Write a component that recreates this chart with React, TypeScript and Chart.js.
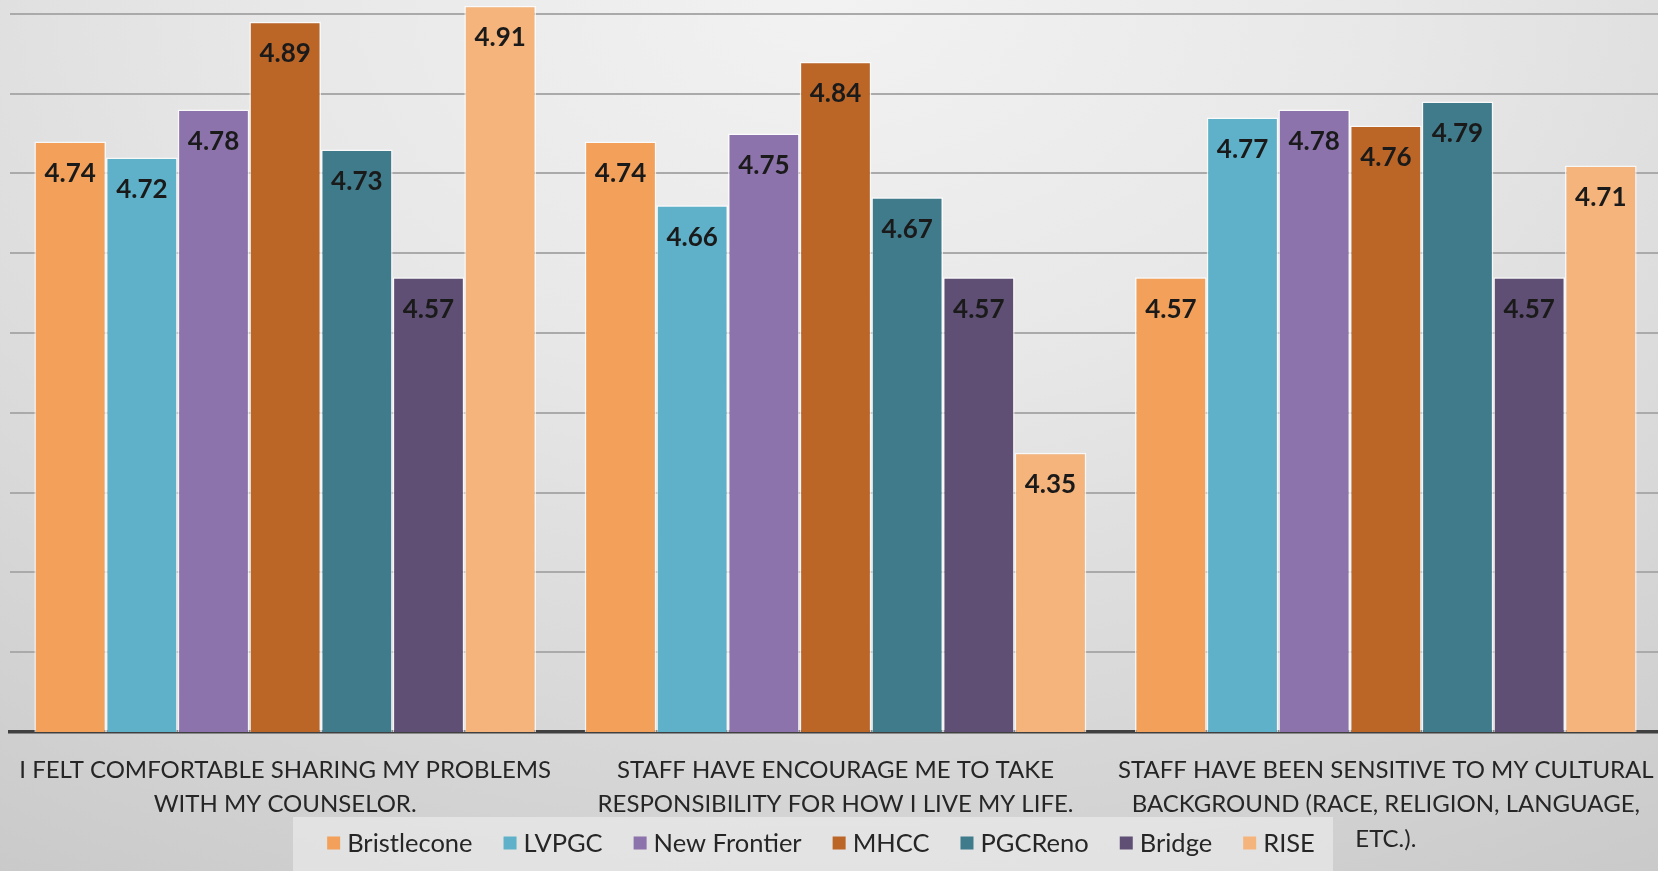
import React, { useEffect, useRef } from 'react';
import { Chart, registerables } from 'chart.js';

Chart.register(...registerables);

// Survey statements (x-axis categories, pre-split into lines)
const categories: string[][] = [
  ['I FELT COMFORTABLE SHARING MY PROBLEMS', 'WITH MY COUNSELOR.'],
  ['STAFF HAVE ENCOURAGE ME TO TAKE', 'RESPONSIBILITY FOR HOW I LIVE MY LIFE.'],
  ['STAFF HAVE BEEN SENSITIVE TO MY CULTURAL', 'BACKGROUND (RACE, RELIGION, LANGUAGE,', 'ETC.).'],
];

// Average ratings per program
const seriesNames = ['Bristlecone', 'LVPGC', 'New Frontier', 'MHCC', 'PGCReno', 'Bridge', 'RISE'];
const bristlecone = [4.74, 4.74, 4.57];
const lvpgc = [4.72, 4.66, 4.77];
const newFrontier = [4.78, 4.75, 4.78];
const mhcc = [4.89, 4.84, 4.76];
const pgcReno = [4.73, 4.67, 4.79];
const bridge = [4.57, 4.57, 4.57];
const rise = [4.91, 4.35, 4.71];
const seriesValues = [bristlecone, lvpgc, newFrontier, mhcc, pgcReno, bridge, rise];

const seriesColors = ['#F2A05A', '#5FB1C9', '#8D73AC', '#BB6527', '#3F7B8B', '#5F4F74', '#F5B47C'];

// Value axis range and gridline step
const yMin = 4.0;
const yMax = 5.0;
const yStep = 0.1;

const FONT = 'Lato, "Open Sans", sans-serif';
const TEXT_COLOR = '#262626';
const CANVAS_W = 1661;
const CANVAS_H = 937;
const TOP_SHIFT = 66;

const valueLabels = {
  id: 'valueLabels',
  afterDatasetsDraw(chart: any) {
    const ctx = chart.ctx;
    ctx.save();
    ctx.font = `bold 26px ${FONT}`;
    ctx.fillStyle = '#1a1a1a';
    ctx.textAlign = 'center';
    ctx.textBaseline = 'middle';
    chart.data.datasets.forEach((ds: any, di: number) => {
      const meta = chart.getDatasetMeta(di);
      meta.data.forEach((bar: any, i: number) => {
        ctx.fillText(Number(ds.data[i]).toFixed(2), bar.x, bar.y + 32);
      });
    });
    ctx.restore();
  },
};

const boxLegend = {
  id: 'boxLegend',
  afterDraw(chart: any) {
    const ctx = chart.ctx;
    const boxLeft = 293;
    const boxRight = 1333;
    const boxTop = 817 + TOP_SHIFT;
    ctx.save();
    ctx.fillStyle = 'rgba(240,240,240,0.55)';
    ctx.fillRect(boxLeft, boxTop, boxRight - boxLeft, CANVAS_H - boxTop);

    ctx.font = `25.5px ${FONT}`;
    ctx.textBaseline = 'middle';
    ctx.textAlign = 'left';
    const sq = 13;
    const sqGap = 7;
    const itemGap = 31;
    const widths = chart.data.datasets.map((ds: any) => ctx.measureText(ds.label).width);
    const total = widths.reduce((a: number, w: number) => a + sq + sqGap + w, 0) + itemGap * (widths.length - 1);
    let x = 821 - total / 2;
    const cy = 843 + TOP_SHIFT;
    chart.data.datasets.forEach((ds: any, i: number) => {
      ctx.fillStyle = ds.backgroundColor;
      ctx.fillRect(x, cy - sq / 2, sq, sq);
      x += sq + sqGap;
      ctx.fillStyle = TEXT_COLOR;
      ctx.fillText(ds.label, x, cy + 1);
      x += widths[i] + itemGap;
    });
    ctx.restore();
  },
};

export default function App() {
  const canvasRef = useRef<HTMLCanvasElement | null>(null);

  useEffect(() => {
    if (!canvasRef.current) return;
    const chart = new Chart(canvasRef.current, {
      type: 'bar',
      data: {
        labels: categories,
        datasets: seriesNames.map((name, i) => ({
          label: name,
          data: seriesValues[i],
          backgroundColor: seriesColors[i],
          borderColor: 'rgba(255,255,255,0.75)',
          borderWidth: 1.5,
          barPercentage: 1,
          categoryPercentage: 0.9115,
        })),
      },
      options: {
        responsive: false,
        animation: false,
        devicePixelRatio: 1,
        layout: { padding: { left: 10, right: 0, top: 0, bottom: 0 } },
        plugins: {
          legend: { display: false },
          tooltip: { enabled: false },
        },
        scales: {
          x: {
            z: 1,
            grid: { display: false, drawTicks: false },
            border: { display: true, color: '#404040', width: 3.5 },
            ticks: {
              autoSkip: false,
              maxRotation: 0,
              minRotation: 0,
              padding: 21,
              color: TEXT_COLOR,
              font: { family: FONT, size: 24, lineHeight: 1.43 },
            },
            afterFit: (scale: any) => {
              scale.height = 139;
              scale.paddingLeft = 0;
              scale.paddingRight = 0;
            },
          },
          y: {
            min: yMin,
            max: yMax,
            ticks: { display: false, stepSize: yStep },
            border: { display: false },
            grid: {
              drawTicks: false,
              color: '#aaaaaa',
              lineWidth: 2,
            },
          },
        },
      },
      plugins: [valueLabels, boxLegend],
    });
    return () => chart.destroy();
  }, []);

  return (
    <div
      style={{
        position: 'absolute',
        left: 0,
        top: 0,
        width: 1658,
        height: 871,
        overflow: 'hidden',
        background:
          'radial-gradient(ellipse 95% 120% at 50% 0%, #f2f2f2 0%, #e8e8e8 35%, #d8d8d8 70%, #c9c9c9 100%)',
      }}
    >
      <canvas
        ref={canvasRef}
        width={CANVAS_W}
        height={CANVAS_H}
        style={{ position: 'absolute', left: 0, top: -TOP_SHIFT, width: CANVAS_W, height: CANVAS_H }}
      />
    </div>
  );
}
